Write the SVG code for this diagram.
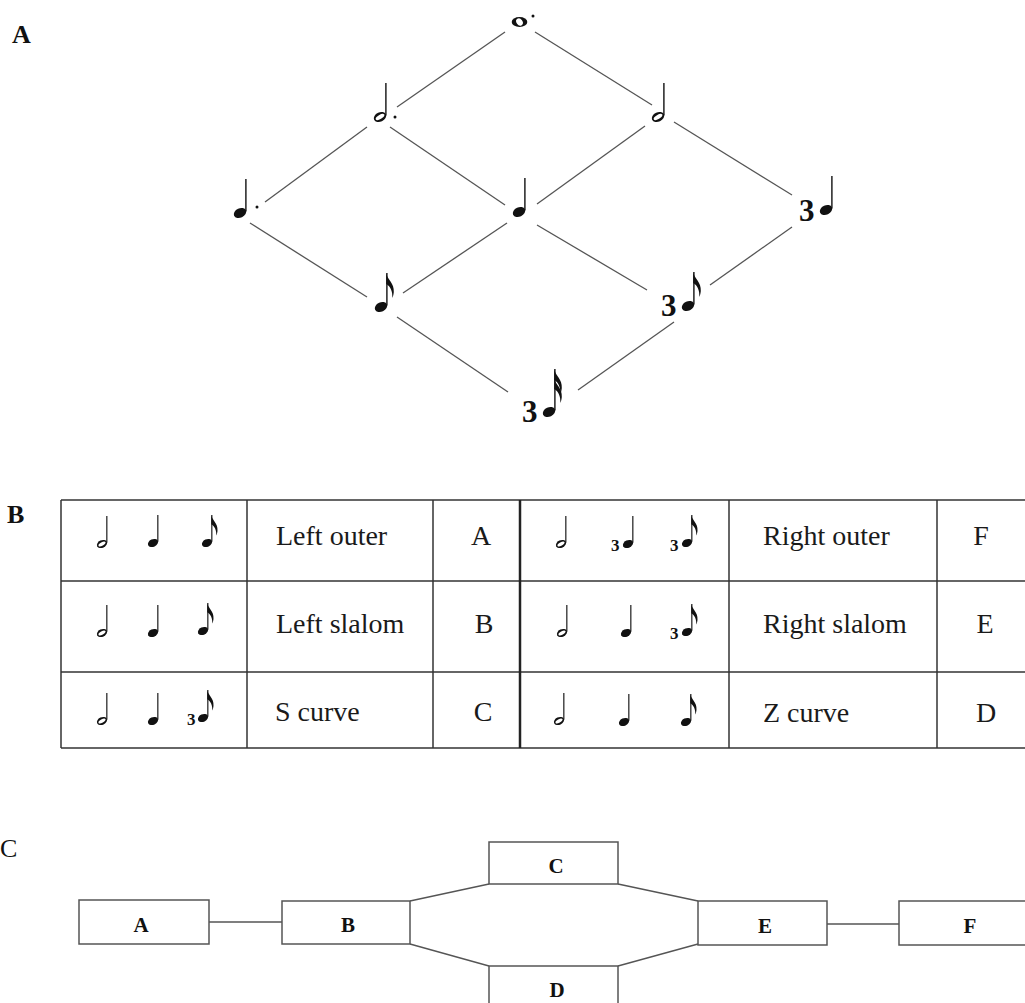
<svg xmlns="http://www.w3.org/2000/svg" width="1025" height="1003" viewBox="0 0 1025 1003">
<style>
 .sec{font-family:"Liberation Serif",serif;font-size:26px;font-weight:bold;fill:#111}
 .secr{font-family:"Liberation Serif",serif;font-size:26px;fill:#111}
 .trip{font-family:"Liberation Serif",serif;font-weight:bold;font-size:31px;fill:#111}
 .trips{font-family:"Liberation Serif",serif;font-weight:bold;font-size:17px;fill:#111}
 .cell{font-family:"Liberation Serif",serif;font-size:28px;fill:#1a1a1a}
 .mid{text-anchor:middle}
 .edge{stroke:#555;stroke-width:1.3;fill:none}
 .grid{stroke:#333;stroke-width:1.5;fill:none}
 .thick{stroke:#222;stroke-width:2.5}
 .box{fill:#fff;stroke:#555;stroke-width:1.5}
 .boxlab{font-family:"Liberation Serif",serif;font-weight:bold;font-size:21px;fill:#111;text-anchor:middle}
 .ink{fill:#111}
 .stem{stroke:#111;stroke-width:1.4}
</style>
<defs>
 <g id="quarter"><ellipse class="ink" rx="6.5" ry="4.6" transform="rotate(-25)"/><line class="stem" x1="5.9" y1="-1.5" x2="5.9" y2="-34"/></g>
 <g id="half"><ellipse class="ink" rx="6.5" ry="4.6" transform="rotate(-25)"/><ellipse rx="4.8" ry="2.1" transform="rotate(-30)" fill="#fff"/><line class="stem" x1="5.9" y1="-1.5" x2="5.9" y2="-34"/></g>
 <g id="eighth"><use href="#quarter"/><path class="ink" d="M5.2,-34 C6.5,-27 13.5,-24 12.8,-15 C12.6,-12.5 12,-10.5 11.2,-9 C12,-15.5 9,-21 5.2,-23 Z"/></g>
 <g id="sixteenth"><ellipse class="ink" rx="6.5" ry="4.6" transform="rotate(-25)"/><line class="stem" x1="5.9" y1="-1.5" x2="5.9" y2="-43"/><path class="ink" d="M5.2,-43 C6.5,-36 13.5,-33 12.8,-24 C12.6,-21.5 12,-19.5 11.2,-18 C12,-24.5 9,-30 5.2,-32 Z"/><path class="ink" d="M5.2,-34 C6.5,-27 13.5,-24 12.8,-15 C12.6,-12.5 12,-10.5 11.2,-9 C12,-15.5 9,-21 5.2,-23 Z"/></g>
 <g id="whole"><ellipse class="ink" rx="7.8" ry="5"/><ellipse rx="3" ry="3.9" transform="rotate(-35)" fill="#fff"/></g>
</defs>
<rect width="1025" height="1003" fill="#fff"/>

<!-- Section A -->
<text class="sec" x="12" y="43">A</text>
<g id="lattice-connectors">
 <line class="edge" x1="505" y1="32" x2="397" y2="107"/>
 <line class="edge" x1="535" y1="32" x2="652" y2="105"/>
 <line class="edge" x1="367" y1="127" x2="265" y2="202"/>
 <line class="edge" x1="390" y1="127" x2="505" y2="205"/>
 <line class="edge" x1="645" y1="126" x2="537" y2="204"/>
 <line class="edge" x1="674" y1="122" x2="792" y2="195"/>
 <line class="edge" x1="250" y1="223" x2="367" y2="297"/>
 <line class="edge" x1="507" y1="223" x2="403" y2="293"/>
 <line class="edge" x1="537" y1="225" x2="647" y2="290"/>
 <line class="edge" x1="792" y1="227" x2="710" y2="285"/>
 <line class="edge" x1="397" y1="317" x2="508" y2="392"/>
 <line class="edge" x1="674" y1="322" x2="578" y2="390"/>
</g>
<g id="n-dotted-whole"><use href="#whole" transform="translate(519.5,22)"/><circle class="ink" cx="533" cy="16" r="1.5"/></g>
<g id="n-dotted-half"><use href="#half" transform="translate(380,117)"/><circle class="ink" cx="395" cy="117" r="1.5"/></g>
<g id="n-half"><use href="#half" transform="translate(658,117)"/></g>
<g id="n-dotted-quarter"><use href="#quarter" transform="translate(240,213)"/><circle class="ink" cx="257" cy="207" r="1.5"/></g>
<g id="n-quarter"><use href="#quarter" transform="translate(519,212)"/></g>
<g id="n-triplet-quarter"><text class="trip" x="799" y="221">3</text><use href="#quarter" transform="translate(826,210)"/></g>
<g id="n-eighth"><use href="#eighth" transform="translate(381,307)"/></g>
<g id="n-triplet-eighth"><text class="trip" x="661" y="316">3</text><use href="#eighth" transform="translate(688,306)"/></g>
<g id="n-triplet-sixteenth"><text class="trip" x="522" y="422">3</text><use href="#sixteenth" transform="translate(549,412)"/></g>

<!-- Section B -->
<text class="sec" x="7" y="523">B</text>
<g id="table">
 <line class="grid" x1="61" y1="500" x2="1025" y2="500"/>
 <line class="grid" x1="61" y1="581" x2="1025" y2="581"/>
 <line class="grid" x1="61" y1="672" x2="1025" y2="672"/>
 <line class="grid" x1="61" y1="748" x2="1025" y2="748"/>
 <line class="grid" x1="61" y1="500" x2="61" y2="748"/>
 <line class="grid" x1="247" y1="500" x2="247" y2="748"/>
 <line class="grid" x1="433" y1="500" x2="433" y2="748"/>
 <line class="grid thick" x1="520" y1="500" x2="520" y2="748"/>
 <line class="grid" x1="729" y1="500" x2="729" y2="748"/>
 <line class="grid" x1="937" y1="500" x2="937" y2="748"/>

 <use href="#half" transform="translate(102,544) scale(0.82)"/>
 <use href="#quarter" transform="translate(153,543) scale(0.82)"/>
 <use href="#eighth" transform="translate(207,543) scale(0.82)"/>
 <text class="cell" x="276" y="545">Left outer</text>
 <text class="cell mid" x="481" y="545">A</text>

 <use href="#half" transform="translate(102,633) scale(0.82)"/>
 <use href="#quarter" transform="translate(153,633) scale(0.82)"/>
 <use href="#eighth" transform="translate(203,631) scale(0.82)"/>
 <text class="cell" x="276" y="633">Left slalom</text>
 <text class="cell mid" x="484" y="633">B</text>

 <use href="#half" transform="translate(102,721) scale(0.82)"/>
 <use href="#quarter" transform="translate(153,721) scale(0.82)"/>
 <text class="trips" x="187" y="725">3</text>
 <use href="#eighth" transform="translate(203,718) scale(0.82)"/>
 <text class="cell" x="275" y="721">S curve</text>
 <text class="cell mid" x="483" y="721">C</text>

 <use href="#half" transform="translate(561,544) scale(0.82)"/>
 <text class="trips" x="611" y="551">3</text>
 <use href="#quarter" transform="translate(628,544) scale(0.82)"/>
 <text class="trips" x="670" y="551">3</text>
 <use href="#eighth" transform="translate(687,543) scale(0.82)"/>
 <text class="cell" x="763" y="545">Right outer</text>
 <text class="cell mid" x="981" y="545">F</text>

 <use href="#half" transform="translate(562,633) scale(0.82)"/>
 <use href="#quarter" transform="translate(626,633) scale(0.82)"/>
 <text class="trips" x="670" y="639">3</text>
 <use href="#eighth" transform="translate(687,632) scale(0.82)"/>
 <text class="cell" x="763" y="633">Right slalom</text>
 <text class="cell mid" x="985" y="633">E</text>

 <use href="#half" transform="translate(559,721) scale(0.82)"/>
 <use href="#quarter" transform="translate(624,722) scale(0.82)"/>
 <use href="#eighth" transform="translate(686,722) scale(0.82)"/>
 <text class="cell" x="763" y="722">Z curve</text>
 <text class="cell mid" x="986" y="722">D</text>
</g>

<!-- Section C -->
<text class="secr" x="0" y="857">C</text>
<g id="flow-connectors">
 <line class="edge" x1="209" y1="922" x2="282" y2="922"/>
 <line class="edge" x1="410" y1="901" x2="489" y2="884"/>
 <line class="edge" x1="410" y1="944" x2="489" y2="966"/>
 <line class="edge" x1="618" y1="884" x2="698" y2="901"/>
 <line class="edge" x1="618" y1="966" x2="698" y2="944"/>
 <line class="edge" x1="827" y1="924" x2="899" y2="924"/>
</g>
<g id="box-A"><rect class="box" x="79" y="900" width="130" height="44"/><text class="boxlab" x="141" y="932">A</text></g>
<g id="box-B"><rect class="box" x="282" y="901" width="128" height="43"/><text class="boxlab" x="348" y="932">B</text></g>
<g id="box-C"><rect class="box" x="489" y="842" width="129" height="42"/><text class="boxlab" x="556" y="873">C</text></g>
<g id="box-D"><rect class="box" x="489" y="966" width="129" height="50"/><text class="boxlab" x="557" y="997">D</text></g>
<g id="box-E"><rect class="box" x="698" y="901" width="129" height="44"/><text class="boxlab" x="765" y="933">E</text></g>
<g id="box-F"><rect class="box" x="899" y="901" width="131" height="44"/><text class="boxlab" x="970" y="933">F</text></g>
</svg>
